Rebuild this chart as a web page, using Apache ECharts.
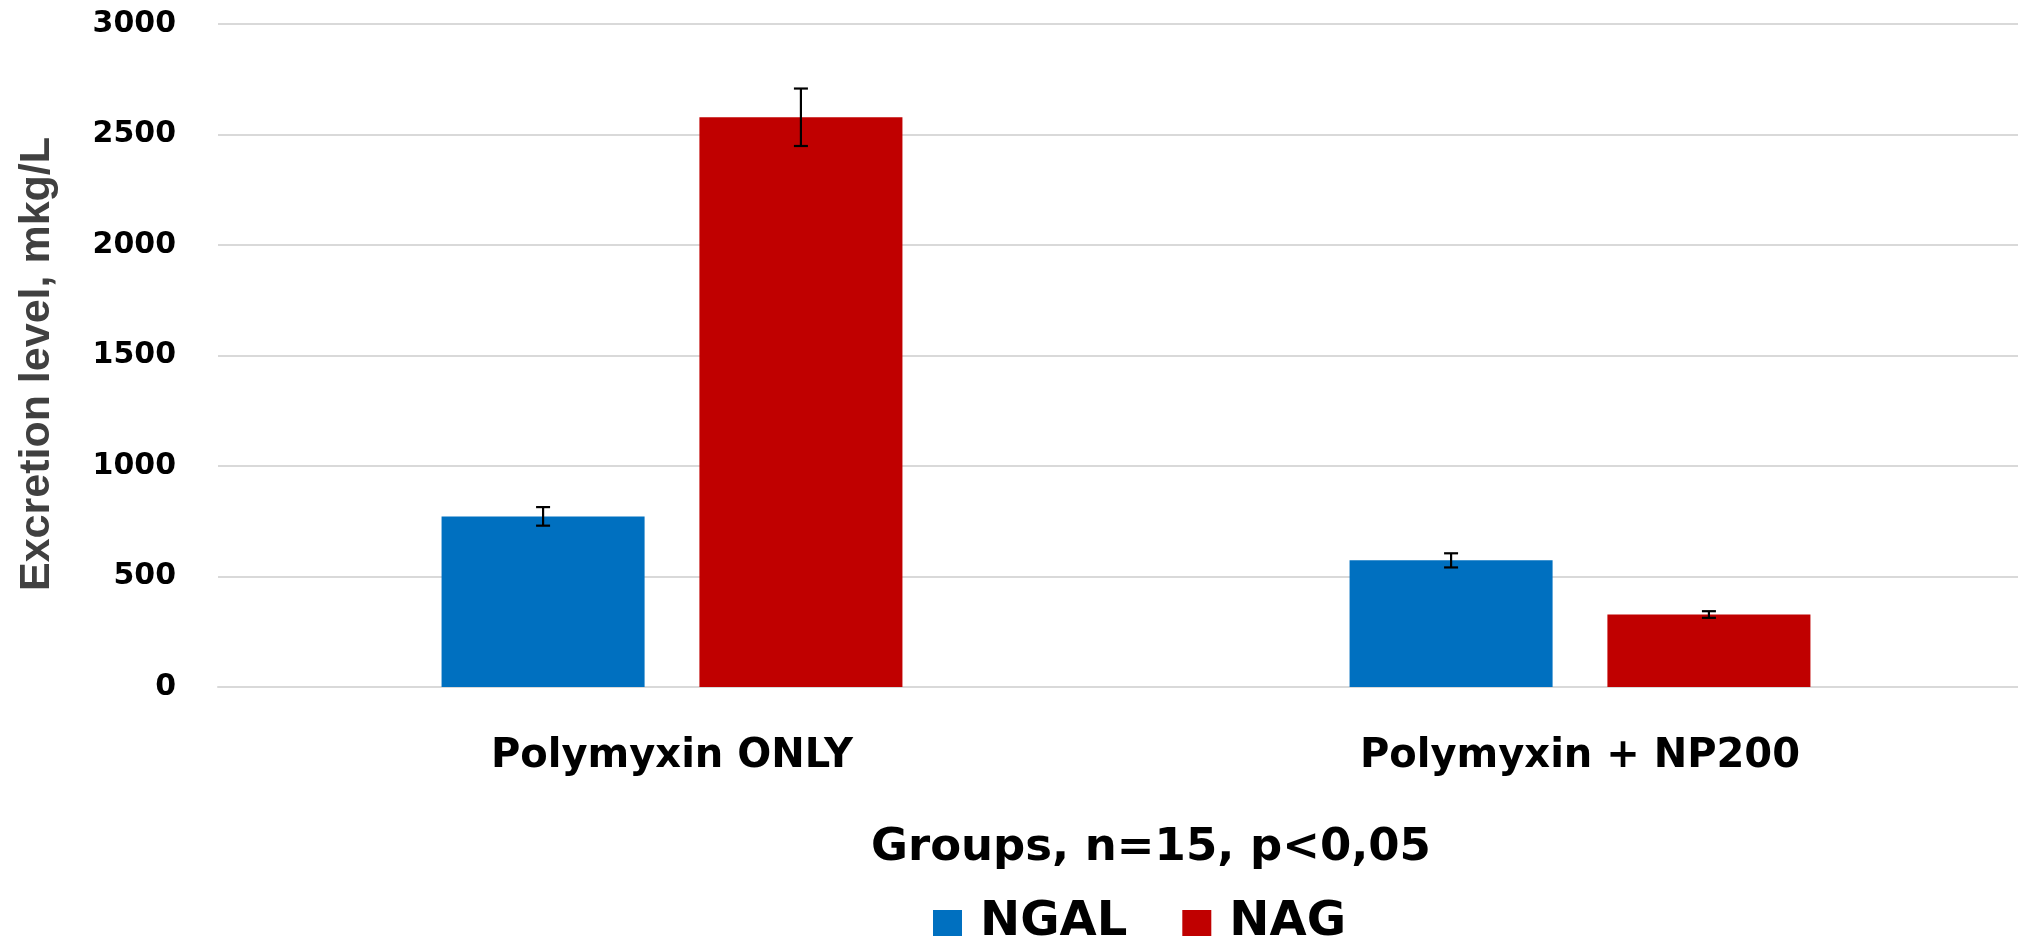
<!DOCTYPE html>
<html>
<head>
<meta charset="utf-8">
<script src="https://cdn.jsdelivr.net/npm/echarts@6/dist/echarts.min.js"></script>
<style>
html,body{margin:0;padding:0;background:#fff;}
#chart{width:2018px;height:939px;}
</style>
</head>
<body>
<div id="chart"></div>
<script>
var categories = ['Polymyxin ONLY', 'Polymyxin + NP200'];
var seriesNames = ['NGAL', 'NAG'];
var ngalValues = [772, 573];
var ngalErrors = [42, 32];
var nagValues = [2578, 328];
var nagErrors = [130, 15];
var yTicks = [0, 500, 1000, 1500, 2000, 2500, 3000];
var yTitle = 'Excretion level, mkg/L';
var xTitle = 'Groups, n=15, p<0,05';

var BAR_FRAC = 0.2236;
var BAR_GAP = 0.27;

var errData = [];
for (var i = 0; i < categories.length; i++) {
  errData.push([i, ngalValues[i] - ngalErrors[i], ngalValues[i] + ngalErrors[i], -1]);
  errData.push([i, nagValues[i] - nagErrors[i], nagValues[i] + nagErrors[i], 1]);
}

var chart = echarts.init(document.getElementById('chart'), null, {renderer: 'canvas'});
var option = {
  backgroundColor: '#ffffff',
  animation: false,
  grid: {left: 218, top: 24, width: 1816, height: 663, containLabel: false, outerBoundsMode: 'none'},
  legend: {
    data: seriesNames,
    left: 928,
    top: 894,
    icon: 'rect',
    itemWidth: 29,
    itemHeight: 26,
    itemGap: 55,
    textStyle: {fontFamily: 'DejaVu Sans', fontWeight: 'bold', fontSize: 48, color: '#000', padding: [0, 0, 0, 13]}
  },
  graphic: [{
    type: 'text',
    left: 871,
    top: 826,
    style: {text: xTitle, fontFamily: 'DejaVu Sans', fontWeight: 'bold', fontSize: 45, fill: '#000'}
  }, {
    type: 'text',
    x: 37,
    y: 364,
    rotation: Math.PI / 2,
    style: {text: yTitle, fontFamily: 'Liberation Sans', fontWeight: 'bold', fontSize: 43, fill: '#404040', align: 'center', verticalAlign: 'middle'}
  }],
  xAxis: {
    type: 'category',
    data: categories,
    axisTick: {show: false},
    axisLine: {show: true, lineStyle: {color: '#d9d9d9', width: 2}},
    axisLabel: {margin: 50, fontFamily: 'DejaVu Sans', fontWeight: 'bold', fontSize: 40, color: '#000'}
  },
  yAxis: {
    type: 'value',
    min: 0,
    max: 3000,
    interval: 500,
    axisLine: {show: false},
    axisTick: {show: false},
    splitLine: {show: true, lineStyle: {color: '#d9d9d9', width: 2}},
    axisLabel: {
      margin: 42, fontFamily: 'DejaVu Sans', fontWeight: 'bold', fontSize: 30, color: '#000',
      formatter: function (v) { return yTicks.indexOf(v) >= 0 ? String(v) : ''; }
    }
  },
  series: [
    {name: 'NGAL', type: 'bar', data: ngalValues, barWidth: (BAR_FRAC * 100) + '%', barGap: (BAR_GAP * 100) + '%', itemStyle: {color: '#0070C0'}},
    {name: 'NAG', type: 'bar', data: nagValues, barWidth: (BAR_FRAC * 100) + '%', barGap: (BAR_GAP * 100) + '%', itemStyle: {color: '#C00000'}},
    {
      name: 'errors',
      type: 'custom',
      data: errData,
      encode: {x: 0, y: [1, 2]},
      z: 10,
      silent: true,
      renderItem: function (params, api) {
        var cat = api.value(0), lo = api.value(1), hi = api.value(2), side = api.value(3);
        var catW = api.size([1, 0])[0];
        var bw = catW * BAR_FRAC;
        var off = side * bw * (1 + BAR_GAP) / 2;
        var pLo = api.coord([cat, lo]);
        var pHi = api.coord([cat, hi]);
        var x = pLo[0] + off;
        var cw = 7;
        var st = {stroke: '#000', lineWidth: 2.2};
        return {
          type: 'group',
          children: [
            {type: 'line', shape: {x1: x, y1: pHi[1], x2: x, y2: pLo[1]}, style: st},
            {type: 'line', shape: {x1: x - cw, y1: pHi[1], x2: x + cw, y2: pHi[1]}, style: st},
            {type: 'line', shape: {x1: x - cw, y1: pLo[1], x2: x + cw, y2: pLo[1]}, style: st}
          ]
        };
      }
    }
  ]
};
chart.setOption(option);
</script>
</body>
</html>
